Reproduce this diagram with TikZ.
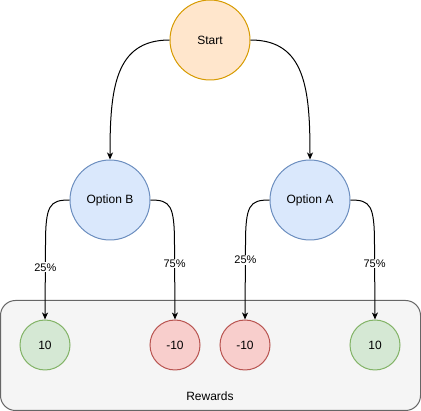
\documentclass[tikz,border=0pt]{standalone}
\usepackage{fontspec}
\setmainfont{Liberation Sans}
\usetikzlibrary{arrows.meta}
\definecolor{startfill}{HTML}{FFE6CC}
\definecolor{startline}{HTML}{D79B00}
\definecolor{optfill}{HTML}{DAE8FC}
\definecolor{optline}{HTML}{6C8EBF}
\definecolor{goodfill}{HTML}{D5E8D4}
\definecolor{goodline}{HTML}{82B366}
\definecolor{badfill}{HTML}{F8CECC}
\definecolor{badline}{HTML}{B85450}
\definecolor{boxfill}{HTML}{F5F5F5}
\definecolor{boxline}{HTML}{666666}
\tikzset{
  bigstate/.style={circle, draw, line width=1pt, minimum size=80pt, inner sep=0pt, font=\fontsize{12}{14}\selectfont},
  reward/.style={circle, draw, line width=1pt, minimum size=50pt, inner sep=0pt, font=\fontsize{12}{14}\selectfont},
  flow/.style={line width=1pt, -{Stealth[length=7pt,width=6pt,inset=2pt]}},
  prob/.style={fill=white, inner sep=1pt, font=\fontsize{11}{13}\selectfont},
}
\begin{document}
\begin{tikzpicture}[x=1pt, y=-1pt]
  \useasboundingbox (0,0) rectangle (421,411);
  % reward group
  \node[draw=boxline, fill=boxfill, line width=1pt, rounded corners=15pt,
        minimum width=420pt, minimum height=110pt, inner sep=0pt] (box) at (210.5,355.5) {};
  \node[font=\fontsize{12}{14}\selectfont] (rewards) at (210,396) {Rewards};

  % states
  \node[bigstate, fill=startfill, draw=startline] (start) at (210,40) {Start};
  \node[bigstate, fill=optfill, draw=optline] (optb) at (110,200) {Option B};
  \node[bigstate, fill=optfill, draw=optline] (opta) at (310,200) {Option A};

  % outcomes
  \node[reward, fill=goodfill, draw=goodline] (b1) at (45,345) {10};
  \node[reward, fill=badfill, draw=badline] (b2) at (175,345) {-10};
  \node[reward, fill=badfill, draw=badline] (a1) at (245,345) {-10};
  \node[reward, fill=goodfill, draw=goodline] (a2) at (375,345) {10};

  % choice edges
  \draw[flow] (start.west) .. controls ++(-55,0) and ++(0,-70) .. (optb.north);
  \draw[flow] (start.east) .. controls ++(55,0) and ++(0,-70) .. (opta.north);

  % probability edges
  \draw[flow] (optb.west) .. controls ++(-20,0) and ++(0,-40) .. ++(-24,45) -- (b1.north)
    node[prob, pos=0.3] (pb1) {25\%};
  \draw[flow] (optb.east) .. controls ++(20,0) and ++(0,-40) .. ++(24,45) -- (b2.north)
    node[prob, pos=0.25] (pb2) {75\%};
  \draw[flow] (opta.west) .. controls ++(-20,0) and ++(0,-40) .. ++(-24,45) -- (a1.north)
    node[prob, pos=0.2] (pa1) {25\%};
  \draw[flow] (opta.east) .. controls ++(20,0) and ++(0,-40) .. ++(24,45) -- (a2.north)
    node[prob, pos=0.25] (pa2) {75\%};
\end{tikzpicture}
\end{document}
